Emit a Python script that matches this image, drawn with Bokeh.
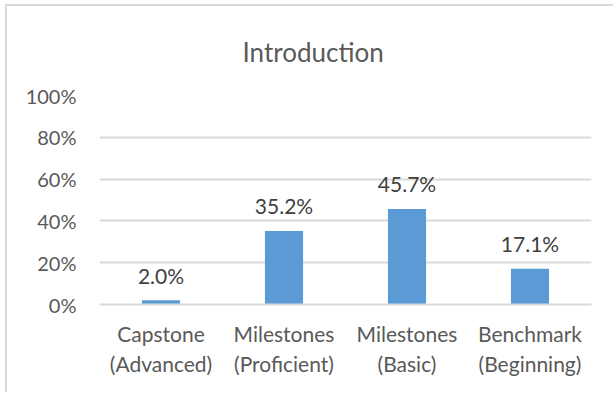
from bokeh.plotting import figure
from bokeh.models import Range1d, FixedTicker, ColumnDataSource
from bokeh.embed import file_html
from bokeh.resources import INLINE
from bokeh.core.properties import value

# Chart content
title_text = "Introduction"
categories = ["Capstone\n(Advanced)", "Milestones\n(Proficient)",
              "Milestones\n(Basic)", "Benchmark\n(Beginning)"]
shares = [0.020, 0.352, 0.457, 0.171]
y_ticks = [0.0, 0.2, 0.4, 0.6, 0.8, 1.0]
y_tick_labels = ["0%", "20%", "40%", "60%", "80%", "100%"]

FONT = "Lato"
TEXT_GREY = "#595959"
LABEL_GREY = "#404040"
GRID_GREY = "#D9D9D9"
BAR_BLUE = "#5B9BD5"

positions = [i + 0.5 for i in range(len(categories))]
src = ColumnDataSource(dict(
    x=positions,
    top=shares,
    label=[f"{v * 100:.1f}%" for v in shares],
))

p = figure(
    width=608, height=388,
    x_range=Range1d(0, len(categories)),
    y_range=Range1d(0, 1),
    output_backend="svg",
    toolbar_location=None,
    min_border_left=92, min_border_right=24,
    min_border_top=88, min_border_bottom=90,
)
# light chart-area frame on the top and left edges
p.margin = (4, 0, 0, 5)
p.styles = {
    "border-top": "2px solid #D9D9D9",
    "border-left": "2px solid #D9D9D9",
}
p.outline_line_color = None
p.background_fill_color = "white"
p.border_fill_color = "white"

# chart title
p.title.text = title_text
p.title.align = "left"
p.title.offset = 143
p.title.standoff = 55
p.title.text_font = FONT
p.title.text_font_size = "26px"
p.title.text_font_style = "normal"
p.title.text_color = TEXT_GREY

# bars
p.vbar(x="x", top="top", bottom=0, width=0.31, source=src,
       fill_color=BAR_BLUE, line_color=None)

# value labels above bars
p.text(x="x", y="top", text="label", source=src,
       text_align="center", text_baseline="alphabetic", y_offset=-25,
       text_font=value(FONT), text_font_size="21px", text_color=LABEL_GREY)

# y axis
p.yaxis.ticker = FixedTicker(ticks=y_ticks)
p.yaxis.major_label_overrides = {t: l for t, l in zip(y_ticks, y_tick_labels)}
p.yaxis.axis_line_color = None
p.yaxis.major_tick_line_color = None
p.yaxis.minor_tick_line_color = None
p.yaxis.major_label_standoff = 17
p.yaxis.major_label_text_font = FONT
p.yaxis.major_label_text_font_size = "20px"
p.yaxis.major_label_text_color = TEXT_GREY

# x axis
p.xaxis.ticker = FixedTicker(ticks=positions)
p.xaxis.major_label_overrides = {t: l for t, l in zip(positions, categories)}
p.xaxis.axis_line_color = GRID_GREY
p.xaxis.axis_line_width = 2
p.xaxis.major_tick_line_color = None
p.xaxis.minor_tick_line_color = None
p.xaxis.major_label_standoff = 10
p.xaxis.major_label_text_font = FONT
p.xaxis.major_label_text_font_size = "21px"
p.xaxis.major_label_text_color = TEXT_GREY

# grid
p.xgrid.grid_line_color = None
p.ygrid.grid_line_color = GRID_GREY
p.ygrid.grid_line_width = 2

open("out.html", "w").write(file_html(p, INLINE))
